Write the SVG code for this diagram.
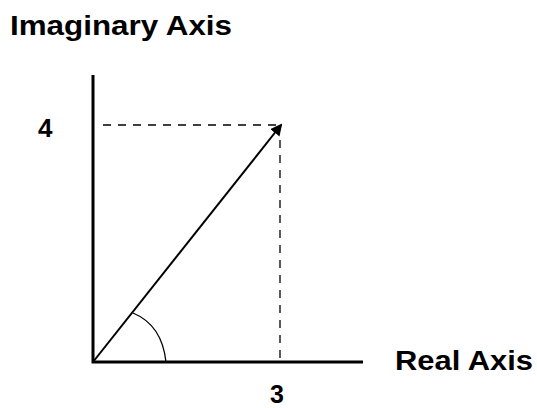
<svg xmlns="http://www.w3.org/2000/svg" width="537" height="408" viewBox="0 0 537 408">
<style>
.t{font-family:"Liberation Sans",Arial,sans-serif;font-weight:bold;fill:#000}
.ax{stroke:#000;stroke-width:3;fill:none}
.d{stroke:#000;stroke-width:1.3;stroke-dasharray:8,7;fill:none}
</style>
<defs>
<marker id="ah" markerWidth="12" markerHeight="12" refX="10" refY="6" orient="auto" markerUnits="userSpaceOnUse">
<path d="M0,0 L12,6 L0,12 Z" fill="#000"/>
</marker>
</defs>
<rect width="537" height="408" fill="#fff"/>
<g id="connectors">
<path class="ax" d="M93,75 V362 H363"/>
<path class="d" d="M103,125 H280"/>
<path class="d" d="M280,140 V362"/>
<path d="M93,362 L281,125" stroke="#000" stroke-width="2" fill="none" marker-end="url(#ah)"/>
<path d="M133,313 Q162,325 166,362" stroke="#000" stroke-width="1.3" fill="none"/>
</g>
<g id="label-imag"><text class="t" x="10" y="35" font-size="27" textLength="222" lengthAdjust="spacingAndGlyphs">Imaginary Axis</text></g>
<g id="label-4"><text class="t" x="38" y="137" font-size="26">4</text></g>
<g id="label-3"><text class="t" x="270" y="403" font-size="25">3</text></g>
<g id="label-real"><text class="t" x="395" y="370" font-size="27" textLength="138" lengthAdjust="spacingAndGlyphs">Real Axis</text></g>
</svg>
